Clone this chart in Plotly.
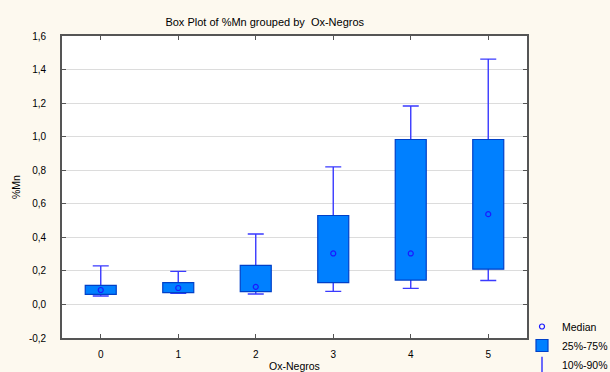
import plotly.graph_objects as go

categories = [0, 1, 2, 3, 4, 5]
p10 = [0.050, 0.066, 0.062, 0.078, 0.096, 0.143]
q1 = [0.060, 0.070, 0.076, 0.130, 0.145, 0.210]
median = [0.086, 0.098, 0.105, 0.304, 0.304, 0.538]
q3 = [0.114, 0.130, 0.233, 0.530, 0.983, 0.983]
p90 = [0.230, 0.197, 0.420, 0.820, 1.183, 1.462]

ytick_vals = [-0.2, 0.0, 0.2, 0.4, 0.6, 0.8, 1.0, 1.2, 1.4, 1.6]
ytick_text = ["-0,2", "0,0", "0,2", "0,4", "0,6", "0,8", "1,0", "1,2", "1,4", "1,6"]

FONT = "Liberation Sans, Arial, sans-serif"
BOX_FILL = "#0080ff"
BOX_LINE = "#0040c8"
WHISK = "#3a3aff"
MED = "#1a1aff"
AXIS = "#555555"

fig = go.Figure()

fig.add_trace(go.Scatter(
    x=categories, y=median, mode="markers", name="Median",
    marker=dict(symbol="circle-open", size=5, color=MED, line=dict(width=1.2, color=MED)),
    yaxis="y2",
))
fig.add_trace(go.Bar(
    x=categories, y=[b - a for a, b in zip(q1, q3)], base=q1, name="25%-75%",
    width=0.4, marker=dict(color=BOX_FILL, line=dict(color=BOX_LINE, width=1.2)),
    yaxis="y2",
))
fig.add_trace(go.Scatter(
    x=categories, y=median, mode="markers", showlegend=False,
    marker=dict(size=1, color="rgba(0,0,0,0)"),
    error_y=dict(type="data", symmetric=False,
                 array=[h - m for h, m in zip(p90, median)],
                 arrayminus=[m - l for m, l in zip(median, p10)],
                 width=8, thickness=1.4, color=WHISK),
    hoverinfo="skip",
))
fig.add_trace(go.Scatter(
    x=[None], y=[None], mode="markers", name="10%-90%",
    marker=dict(symbol="line-ns-open", size=11, color=WHISK, line=dict(width=1.5, color=WHISK)),
))

axis_common = dict(
    showline=True, linecolor=AXIS, linewidth=1.6, mirror="ticks",
    ticks="inside", ticklen=4, tickcolor=AXIS,
    tickfont=dict(family=FONT, size=10, color="black"),
    zeroline=False,
)

fig.update_layout(
    width=610, height=372,
    margin=dict(l=62, r=83, t=36, b=34, autoexpand=False),
    paper_bgcolor="#fdf9ef",
    plot_bgcolor="white",
    font=dict(family=FONT, size=10, color="black"),
    title=dict(text="Box Plot of %Mn grouped by\u00a0 Ox-Negros",
               x=0.434, xanchor="center", y=1 - 22 / 372, yanchor="middle",
               font=dict(family=FONT, size=11, color="black")),
    xaxis=dict(range=[-0.5, 5.5], tickvals=categories, ticktext=[str(c) for c in categories],
               showgrid=False, ticklabelstandoff=6,
               title=dict(text="Ox-Negros", standoff=4, font=dict(family=FONT, size=10.5)),
               **axis_common),
    yaxis=dict(range=[-0.2, 1.6], tickvals=ytick_vals, ticktext=ytick_text,
               showgrid=True, gridcolor="#dcdcdc", gridwidth=1, ticklabelstandoff=12,
               title=dict(text="%Mn", standoff=6, font=dict(family=FONT, size=10.5)),
               **axis_common),
    yaxis2=dict(range=[-0.2, 1.6], overlaying="y", visible=False, showgrid=False),
    legend=dict(xref="container", yref="container", x=522 / 610, xanchor="left",
                y=1 - 312 / 372, yanchor="top",
                bgcolor="rgba(0,0,0,0)", font=dict(family=FONT, size=10.5),
                tracegroupgap=0, itemwidth=30),
    showlegend=True,
)

fig.write_html("out.html", config={"displayModeBar": False},
               post_script="document.body.style.margin='0';document.body.style.overflow='hidden';")
